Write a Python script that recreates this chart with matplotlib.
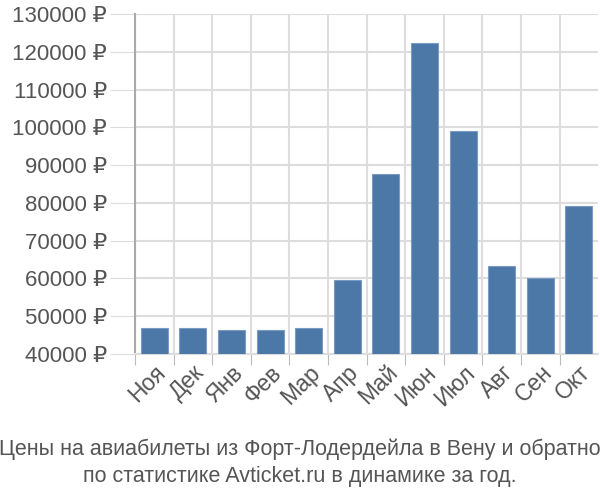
import matplotlib
matplotlib.use("Agg")
import matplotlib.pyplot as plt
from matplotlib.ticker import FuncFormatter, MultipleLocator
import numpy as np

plt.rcParams["font.family"] = ["Liberation Sans", "DejaVu Sans"]

# ── Data ─────────────────────────────────────────────────────────────────────
months = ["Ноя", "Дек", "Янв", "Фев", "Мар", "Апр",
          "Май", "Июн", "Июл", "Авг", "Сен", "Окт"]
prices = [46900, 46900, 46400, 46400, 46900, 59700,
          87700, 122300, 99100, 63400, 60200, 79100]

title = ("Цены на авиабилеты из Форт-Лодердейла в Вену и обратно\n"
         "по статистике Avticket.ru в динамике за год.")

TEXT = "#555555"
GRID = "#dddddd"
BAR = "#4c78a8"

fig = plt.figure(figsize=(6, 5), dpi=100)
ax = fig.add_axes([0.225, 0.292, 0.772, 0.68])

x = np.arange(len(months))
ax.bar(x, prices, width=0.7, color=BAR, edgecolor="#7a9cc4", linewidth=0.8,
       zorder=3)

ax.set_xlim(-0.5, len(months) - 0.5)
ax.set_ylim(40000, 130000)
ax.yaxis.set_major_locator(MultipleLocator(10000))
ax.yaxis.set_major_formatter(FuncFormatter(lambda v, _: f"{v:.0f} ₽"))

# grid lines sit between the bars
ax.set_xticks(x - 0.5, minor=False)
ax.set_xticks(x, minor=True)
ax.set_xticklabels([])
ax.set_xticklabels(months, minor=True, rotation=45, ha="right",
                   rotation_mode="anchor")
ax.tick_params(axis="x", which="major", length=8, color="#bbbbbb")
ax.tick_params(axis="x", which="minor", length=0, pad=5,
               labelsize=16.5, labelcolor=TEXT)
ax.tick_params(axis="y", length=18, color=GRID, labelsize=16,
               labelcolor=TEXT, pad=2)

ax.grid(axis="both", which="major", color=GRID, linewidth=1.5, zorder=0)
ax.grid(axis="x", which="minor", visible=False)
for s in ["top", "right"]:
    ax.spines[s].set_visible(False)
ax.spines["left"].set_color("#aaaaaa")
ax.spines["left"].set_linewidth(1.5)
ax.spines["bottom"].set_color(GRID)
ax.spines["bottom"].set_linewidth(1.5)

fig.text(0.5, 0.026, title, ha="center", va="bottom", fontsize=15.5,
         color=TEXT, linespacing=1.35)

fig.savefig("out.png", dpi=100)
